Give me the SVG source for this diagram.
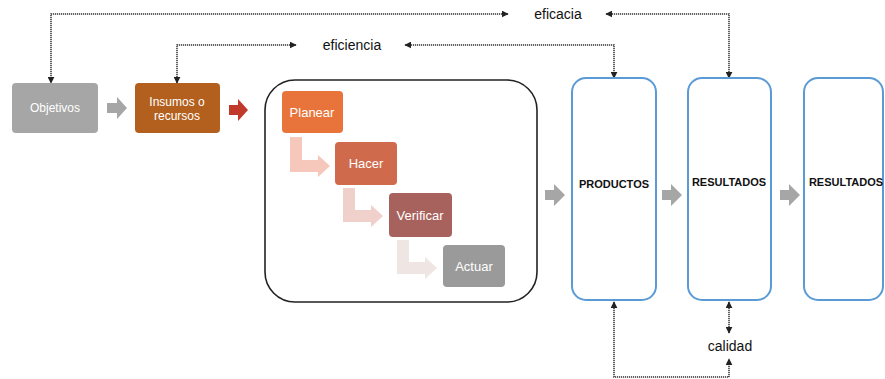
<svg xmlns="http://www.w3.org/2000/svg" width="885" height="379" viewBox="0 0 885 379">
<style>
.dot{fill:none;stroke:#333;stroke-width:1.5;stroke-dasharray:1.2 0.8}
.lbl{font-family:"Liberation Sans",Arial,sans-serif;font-size:14px;fill:#111;text-anchor:middle;dominant-baseline:central}
.wt{font-family:"Liberation Sans",Arial,sans-serif;fill:#fff;text-anchor:middle;dominant-baseline:central}
.bt{font-family:"Liberation Sans",Arial,sans-serif;font-size:11px;font-weight:bold;fill:#111;text-anchor:middle;dominant-baseline:central}
.blue{fill:#fff;stroke:#5b9bd5;stroke-width:2}
.garr{fill:#a6a6a6}
</style>
<defs>
<marker id="ah" viewBox="0 0 10 10" refX="9" refY="5" markerWidth="7" markerHeight="7" markerUnits="userSpaceOnUse" orient="auto-start-reverse"><path d="M0,0 L10,5 L0,10 z" fill="#222"/></marker>
</defs>
<rect width="885" height="379" fill="#fff"/>
<g id="ciclo"><rect x="265" y="80" width="272" height="222" rx="30" fill="#fff" stroke="#222" stroke-width="1.6"/></g>
<g id="connectors">
<path class="dot" d="M508,14 H51 V83" marker-end="url(#ah)" marker-start="url(#ah)"/>
<path class="dot" d="M606,14 H729 V78" marker-end="url(#ah)" marker-start="url(#ah)"/>
<path class="dot" d="M296,45 H177 V83" marker-end="url(#ah)" marker-start="url(#ah)"/>
<path class="dot" d="M405,45 H614 V78" marker-end="url(#ah)" marker-start="url(#ah)"/>
<path class="dot" d="M614,302 V377 H729 V359" marker-end="url(#ah)" marker-start="url(#ah)"/>
<path class="dot" d="M729,302 V333" marker-end="url(#ah)" marker-start="url(#ah)"/>
<path class="garr" d="M107,103 H117 V97 L127,108 L117,119 V113 H107 z"/>
<path fill="#c0392b" d="M229,105 H238 V99 L248,110 L238,121 V115 H229 z"/>
<path class="garr" d="M545,190 H554 V184 L565,195 L554,206 V200 H545 z"/>
<path class="garr" d="M662,190 H671 V184 L682,195 L671,206 V200 H662 z"/>
<path class="garr" d="M780,190 H789 V184 L800,195 L789,206 V200 H780 z"/>
<path fill="#f6c8bb" d="M290,137 H302 V160 H318 V155 L330,166 L318,177 V172 H290 z"/>
<path fill="#efd0cb" d="M343,188 H355 V210 H371 V205 L383,216 L371,227 V222 H343 z"/>
<path fill="#efe6e4" d="M397,240 H409 V262 H425 V257 L437,268 L425,279 V274 H397 z"/>
</g>
<g id="objetivos"><rect x="12" y="83" width="86" height="50" rx="4" fill="#a6a6a6"/><text class="wt" x="55" y="108" font-size="12">Objetivos</text></g>
<g id="insumos"><rect x="135" y="83" width="85" height="50" rx="4" fill="#b35f1e"/><text class="wt" x="177" y="102" font-size="12">Insumos o</text><text class="wt" x="177" y="116" font-size="12">recursos</text></g>
<g id="planear"><rect x="282" y="91" width="61" height="42" rx="4" fill="#e8743b"/><text class="wt" x="312" y="112" font-size="13">Planear</text></g>
<g id="hacer"><rect x="335" y="142" width="62" height="43" rx="4" fill="#cf6a4c"/><text class="wt" x="366" y="163" font-size="13">Hacer</text></g>
<g id="verificar"><rect x="389" y="193" width="63" height="44" rx="4" fill="#a8625d"/><text class="wt" x="420" y="215" font-size="13">Verificar</text></g>
<g id="actuar"><rect x="443" y="245" width="62" height="42" rx="4" fill="#9a9a9a"/><text class="wt" x="474" y="266" font-size="13">Actuar</text></g>
<g id="productos"><rect class="blue" x="572" y="78" width="84" height="222" rx="14"/><text class="bt" x="614" y="184">PRODUCTOS</text></g>
<g id="resultados1"><rect class="blue" x="688" y="78" width="83" height="222" rx="14"/><text class="bt" x="729" y="182">RESULTADOS</text></g>
<g id="resultados2"><rect class="blue" x="804" y="78" width="79" height="222" rx="14"/><text class="bt" x="846" y="182">RESULTADOS</text></g>
<g id="eficacia"><text class="lbl" x="558" y="14">eficacia</text></g>
<g id="eficiencia"><text class="lbl" x="352" y="45">eficiencia</text></g>
<g id="calidad"><text class="lbl" x="730" y="346">calidad</text></g>
</svg>
